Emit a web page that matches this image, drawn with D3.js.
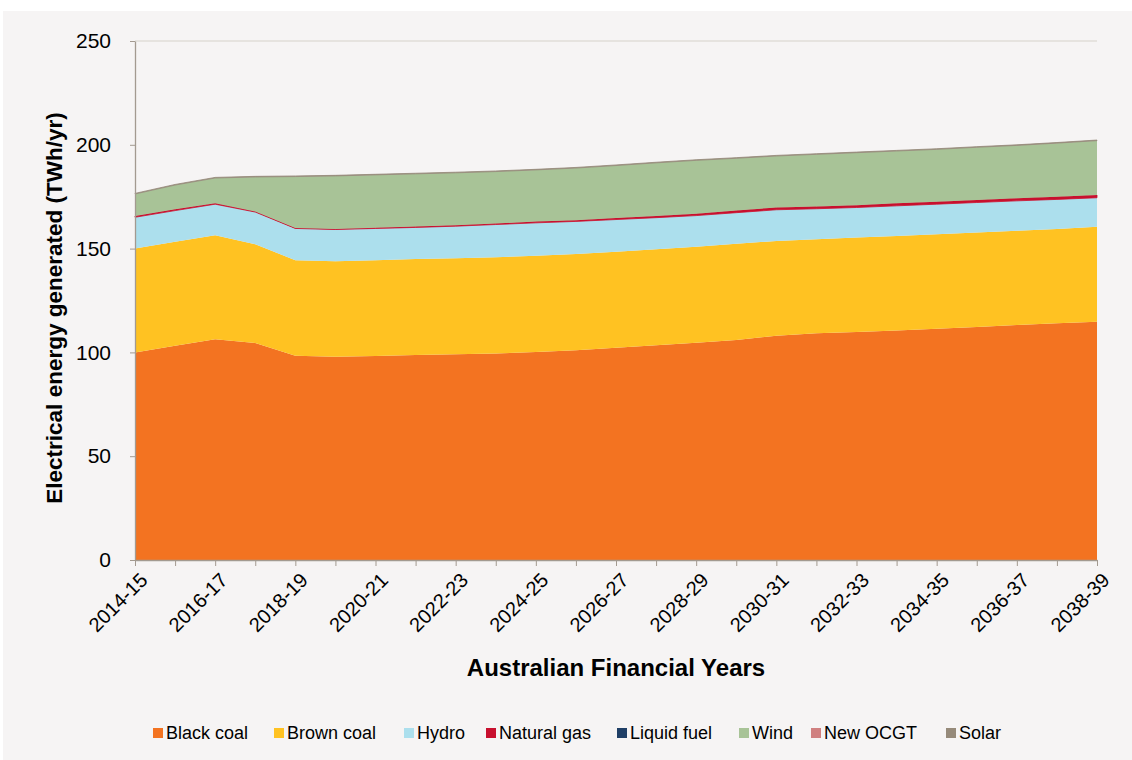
<!DOCTYPE html>
<html>
<head>
<meta charset='utf-8'>
<style>
body { margin: 0; background: #fff; }
text { font-family: 'Liberation Sans', Arial, sans-serif; fill: #000; }
.axis path, .axis line { stroke: #a39a90; }
.axis text { font-size: 20px; }
</style>
<script src='https://d3js.org/d3.v7.min.js'></script>
</head>
<body>
<svg id='chart1' width='1132' height='760'></svg>
<script>
// financial years on the x axis
var years = ['2014-15', '2015-16', '2016-17', '2017-18', '2018-19', '2019-20', '2020-21',
  '2021-22', '2022-23', '2023-24', '2024-25', '2025-26', '2026-27', '2027-28', '2028-29',
  '2029-30', '2030-31', '2031-32', '2032-33', '2033-34', '2034-35', '2035-36', '2036-37',
  '2037-38', '2038-39'];

// TWh/yr
var blackCoal = [100, 103.2, 106.3, 104.5, 98.4, 97.9, 98.3, 98.7, 99.1, 99.5, 100.2, 101.0,
  102.3, 103.4, 104.7, 106.0, 108.0, 109.2, 109.8, 110.6, 111.4, 112.2, 113.2, 114.0, 114.8];
var brownCoal = [50.1, 50.1, 50.1, 47.6, 46.0, 46.0, 46.1, 46.3, 46.3, 46.3, 46.4, 46.4,
  46.2, 46.3, 46.2, 46.3, 45.7, 45.3, 45.5, 45.5, 45.5, 45.5, 45.4, 45.5, 45.7];
var hydro = [15.0, 15.0, 15.0, 15.5, 15.3, 15.3, 15.3, 15.2, 15.4, 15.8, 15.8, 15.7,
  15.5, 15.2, 15.0, 15.0, 15.0, 14.7, 14.5, 14.5, 14.5, 14.5, 14.4, 14.2, 14.0];
var naturalGas = [0.6, 0.6, 0.5, 0.3, 0.2, 0.3, 0.4, 0.4, 0.5, 0.5, 0.6, 0.6,
  0.7, 0.8, 0.9, 1.0, 1.1, 1.1, 1.1, 1.2, 1.2, 1.2, 1.3, 1.3, 1.3];
var liquidFuel = [0, 0, 0, 0, 0, 0, 0, 0, 0, 0, 0, 0, 0, 0, 0, 0, 0, 0, 0, 0, 0, 0, 0, 0, 0];
var wind = [10.6, 11.7, 12.1, 16.6, 24.8, 25.5, 25.4, 25.4, 25.2, 25.0, 24.9, 25.1,
  25.3, 25.6, 25.7, 25.2, 24.8, 25.1, 25.3, 25.2, 25.2, 25.4, 25.4, 25.8, 26.2];
var newOCGT = [0, 0, 0, 0, 0, 0, 0, 0, 0, 0, 0, 0, 0, 0, 0, 0, 0, 0, 0, 0, 0, 0, 0, 0, 0];
var solar = [0.3, 0.3, 0.3, 0.3, 0.3, 0.3, 0.3, 0.3, 0.3, 0.3, 0.3, 0.3,
  0.3, 0.3, 0.3, 0.3, 0.3, 0.3, 0.3, 0.3, 0.3, 0.3, 0.3, 0.3, 0.3];

var seriesNames = ['Black coal', 'Brown coal', 'Hydro', 'Natural gas', 'Liquid fuel', 'Wind', 'New OCGT', 'Solar'];
var seriesValues = [blackCoal, brownCoal, hydro, naturalGas, liquidFuel, wind, newOCGT, solar];
var colors = ['#f37321', '#ffc222', '#acdfed', '#c8102e', '#1f3f66', '#a8c397', '#d08080', '#968a7a'];
var yTicks = [0, 50, 100, 150, 200, 250];

var chart1 = d3.select('svg');
var margin = {top: 41, right: 35, bottom: 200, left: 135};
var width = +chart1.attr('width') - margin.left - margin.right;
var height = +chart1.attr('height') - margin.top - margin.bottom;

// grey panel behind everything
chart1.append('rect').
    attr('x', 3).attr('y', 11).
    attr('width', 1129).attr('height', 749).
    attr('fill', '#f6f4f4');

var g = chart1.append('g').attr('transform',
    'translate(' + margin.left + ',' + margin.top + ')');

var x = d3.scalePoint().domain(years).range([0, width]);
var y = d3.scaleLinear().domain([0, 250]).range([height, 0]);

var table = years.map(function(yr, i) {
  var row = {year: yr};
  seriesNames.forEach(function(n, k) { row[n] = seriesValues[k][i]; });
  return row;
});

var stacked = d3.stack().keys(seriesNames)(table);

var area = d3.area().
    x(function(d) { return x(d.data.year); }).
    y0(function(d) { return y(d[0]); }).
    y1(function(d) { return y(d[1]); });

// top gridline
g.append('line').
    attr('x1', 0).attr('x2', width).
    attr('y1', y(250)).attr('y2', y(250)).
    attr('stroke', '#e6e3df').attr('stroke-width', 2);

g.selectAll('.layer').
    data(stacked).
    enter().append('path').
      attr('class', 'layer').
      attr('fill', function(d, i) { return colors[i]; }).
      attr('stroke', function(d, i) { return (i == 3 || i == 7) ? colors[i] : 'none'; }).
      attr('stroke-width', 0.8).
      attr('d', area);

var yAxis = g.append('g').
    attr('class', 'axis').
    call(d3.axisLeft(y).tickValues(yTicks).tickSize(5).tickSizeOuter(0).tickPadding(19));
yAxis.selectAll('text').style('font-size', '21px');

var xAxis = g.append('g').
    attr('class', 'axis').
    attr('transform', 'translate(0,' + height + ')').
    call(d3.axisBottom(x).tickSize(6).tickSizeOuter(0).
      tickFormat(function(d, i) { return i % 2 == 0 ? d : ''; }));

xAxis.selectAll('text').
    attr('text-anchor', 'end').
    attr('dy', '0.35em').
    attr('transform', 'translate(2,10) rotate(-45)');

g.selectAll('.axis .domain').attr('stroke-width', 1.3);

chart1.append('text').
    attr('transform', 'translate(62,308) rotate(-90)').
    attr('text-anchor', 'middle').
    style('font-size', '22.5px').style('font-weight', 'bold').
    text('Electrical energy generated (TWh/yr)');

chart1.append('text').
    attr('x', margin.left + width / 2).attr('y', 676).
    attr('text-anchor', 'middle').
    style('font-size', '24px').style('font-weight', 'bold').
    text('Australian Financial Years');

// legend
var legendX = [153, 274, 404, 486, 617, 739, 811, 946];
var legend = chart1.selectAll('.legend').
    data(seriesNames).
    enter().append('g').
      attr('class', 'legend').
      attr('transform', function(d, i) { return 'translate(' + legendX[i] + ',733)'; });

legend.append('rect').
    attr('x', 0).attr('y', -5).attr('width', 10).attr('height', 10).
    attr('fill', function(d, i) { return colors[i]; });

legend.append('text').
    attr('x', 13).attr('dy', '0.35em').
    style('font-size', '18px').
    text(function(d) { return d; });
</script>
</body>
</html>
